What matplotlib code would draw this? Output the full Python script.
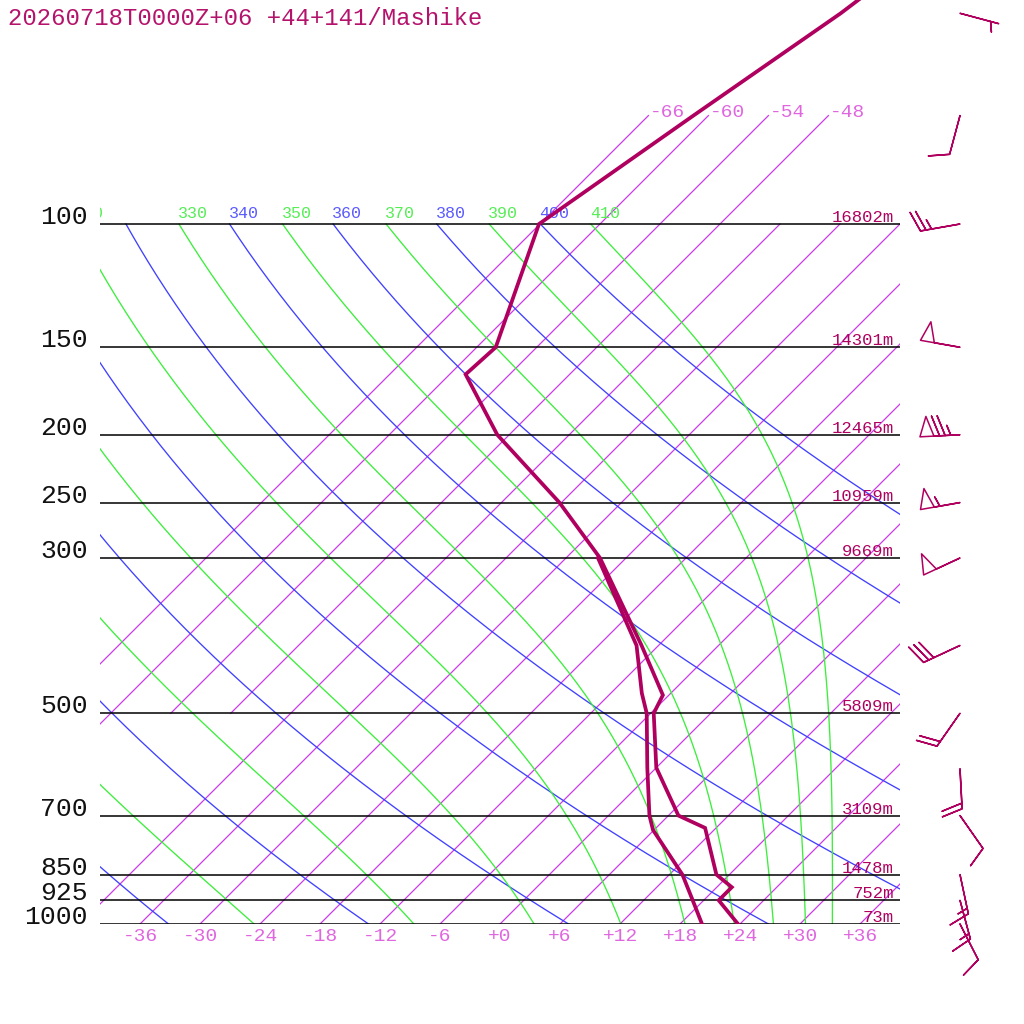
import numpy as np
import matplotlib
matplotlib.use('Agg')
import matplotlib.pyplot as plt
from matplotlib.transforms import offset_copy
from matplotlib.ticker import NullLocator

# ---------------- data ----------------
title = '20260718T0000Z+06 +44+141/Mashike'

p_temp = [1000, 925, 886, 850, 729, 700, 598, 500, 471, 400, 300, 250, 200, 164, 150, 100, 70, 50, 30]
temp = [23.8, 19.5, 19.5, 16.7, 10.9, 7.0, 0.0, -5.7, -6.6, -13.7, -26.6, -36.2, -49.2, -58.4, -58.1, -66.1, -61.5, -57.0, -52.0]

p_dew = [1000, 925, 850, 734, 700, 598, 500, 468, 400, 300]
dewp = [20.2, 16.9, 13.3, 5.9, 4.1, -0.9, -6.4, -8.9, -14.2, -26.8]

p_wind = [50, 70, 100, 150, 200, 250, 300, 400, 500, 600, 700, 850, 925, 1000]
wdir = [105, 195, 260, 280, 267, 260, 245, 245, 215, 177, 145, 168, 165, 153]
wspd = [5, 10, 25, 50, 75, 55, 50, 30, 20, 20, 10, 15, 15, 10]

p_levels = [100, 150, 200, 250, 300, 500, 700, 850, 925, 1000]
p_labels = ['100', '150', '200', '250', '300', '500', '700', '850', '925', '1000']
heights = ['16802m', '14301m', '12465m', '10959m', '9669m', '5809m', '3109m', '1478m', '752m', '73m']

isotherms = list(range(-66, 37, 6))
iso_top = [-66, -60, -54, -48]          # isotherms continued above 100 hPa
iso_from500 = [-54, -48]                # isotherms starting at 500 hPa
dry_thetas = list(range(240, 401, 20))
moist_thetaes = list(range(250, 411, 20))
xtick_temps = list(range(-36, 37, 6))

# ---------------- style ----------------
FONT = 'Liberation Mono'
C_PROF = '#b0005f'
C_ISO = '#cc3ae8'
C_ISO_LBL = '#e066e0'
C_DRY = '#4040ff'
C_DRY_LBL = '#5a5aff'
C_MOIST = '#3cee3c'
C_MOIST_LBL = '#55ee55'

SKEW = 30.4          # skew: deg C per ln(1000/p)
P_TOP = 1000.0 * np.exp(-924.0 / 304.0)


def skx(T, p):
    return np.asarray(T, dtype=float) + SKEW * np.log(1000.0 / np.asarray(p, dtype=float))


def thetae_sat(Tk, p):
    Tc = Tk - 273.15
    es = 6.112 * np.exp(17.67 * Tc / (Tc + 243.5))
    es = np.minimum(es, 0.5 * p)
    r = 622.0 * es / (p - es)
    return Tk * (1000.0 / p) ** (0.2854 * (1 - 0.00028 * r)) * \
        np.exp((3.376 / Tk - 0.00254) * r * (1 + 0.00081 * r))


def moist_T(thetae, p):
    lo = np.full_like(p, 120.0)
    hi = np.full_like(p, 340.0)
    for _ in range(60):
        mid = 0.5 * (lo + hi)
        f = thetae_sat(mid, p) < thetae
        lo = np.where(f, mid, lo)
        hi = np.where(f, hi, mid)
    return 0.5 * (lo + hi) - 273.15


fig = plt.figure(figsize=(10.24, 10.24), dpi=100)
ax = fig.add_axes([100 / 1024, 100 / 1024, 800 / 1024, 924 / 1024])
ax.set_yscale('log')
ax.set_ylim(1000, P_TOP)
ax.set_xlim(-40, 40)
for s in ax.spines.values():
    s.set_visible(False)
ax.yaxis.set_major_locator(NullLocator())
ax.yaxis.set_minor_locator(NullLocator())

# pressure lines
for p in p_levels:
    ax.axhline(p, color='black', lw=1.1, zorder=2)

pg = np.geomspace(1000, 100, 200)

# isotherms
for T in isotherms:
    pbot = 500 if T in iso_from500 else 1000
    ptop = 70 if T in iso_top else 100
    pp = np.geomspace(pbot, ptop, 50)
    ax.plot(skx(np.full_like(pp, T), pp), pp, color=C_ISO, lw=0.9, zorder=1)
    if T in iso_top:
        tr = offset_copy(ax.transData, fig=fig, x=1, y=-1, units='dots')
        ax.text(skx(T, ptop), ptop, f'{T:+d}', transform=tr, ha='left', va='baseline',
                color=C_ISO_LBL, fontsize=14, family=FONT)

# dry adiabats
tr_lbl = offset_copy(ax.transData, fig=fig, x=-1, y=6, units='dots')
for th in dry_thetas:
    Tg = th * (pg / 1000.0) ** 0.2857 - 273.15
    ax.plot(skx(Tg, pg), pg, color=C_DRY, lw=0.95, zorder=1)
    if skx(Tg[-1], 100) > -36:
        ax.text(skx(Tg[-1], 100), 100, str(th), transform=tr_lbl, ha='left', va='baseline',
                color=C_DRY_LBL, fontsize=12, family=FONT, clip_on=True)

# moist adiabats
for te in moist_thetaes:
    Tg = moist_T(te, pg)
    ax.plot(skx(Tg, pg), pg, color=C_MOIST, lw=0.95, zorder=1)
    if skx(Tg[-1], 100) > -36:
        ax.text(skx(Tg[-1], 100), 100, str(te), transform=tr_lbl, ha='left', va='baseline',
                color=C_MOIST_LBL, fontsize=12, family=FONT, clip_on=True)
# partially hidden 310 label at the left edge
Tg310 = moist_T(310, np.array([100.0]))
ax.text(skx(Tg310, 100)[0], 100, '310', transform=tr_lbl, ha='left', va='baseline',
        color=C_MOIST_LBL, fontsize=12, family=FONT, clip_on=True)

# profiles
ax.plot(skx(dewp, p_dew), p_dew, color=C_PROF, lw=2.7, zorder=5, solid_joinstyle='miter')
ax.plot(skx(temp, p_temp), p_temp, color=C_PROF, lw=2.7, zorder=5, solid_joinstyle='miter')

# pressure labels
for p, lab in zip(p_levels, p_labels):
    ax.text(-41.2, p, lab, ha='right', va='baseline', fontsize=19, family=FONT,
            color='#111111', clip_on=False)

# height labels
tr_h = offset_copy(ax.transData, fig=fig, x=0, y=2, units='dots')
for p, h in zip(p_levels, heights):
    ax.text(39.4, p, h, transform=tr_h, ha='right', va='baseline', fontsize=12.4,
            family=FONT, color=C_PROF)

# x ticks
ax.set_xticks(xtick_temps)
ax.set_xticklabels([f'{t:+d}' for t in xtick_temps], family=FONT, fontsize=14, color=C_ISO_LBL)
ax.tick_params(axis='x', length=0, pad=3)

# wind barbs
wd = np.radians(wdir)
u = -np.array(wspd) * np.sin(wd)
v = -np.array(wspd) * np.cos(wd)
xb = np.full(len(p_wind), 46.0)
ax.barbs(xb, p_wind, u, v, length=7.6, linewidth=1.1, barbcolor=C_PROF, flagcolor='none',
         sizes=dict(spacing=0.14, height=0.5, width=0.35, emptybarb=0.1), clip_on=False, zorder=6)

fig.text(8 / 1024, 1 - 25 / 1024, title, ha='left', va='baseline', fontsize=17.2,
         family=FONT, color='#b5126c')

fig.savefig('out.png', dpi=100)
